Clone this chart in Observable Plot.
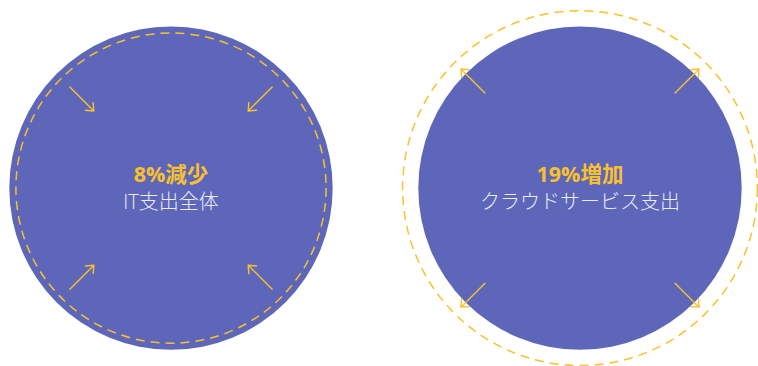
<!DOCTYPE html>
<html>
<head>
<meta charset="utf-8">
<script src="https://cdn.jsdelivr.net/npm/d3@7"></script>
<script src="https://cdn.jsdelivr.net/npm/@observablehq/plot@0.6"></script>
<style>
  html, body { margin: 0; padding: 0; background: #ffffff; }
  #chart { width: 758px; height: 366px; }
</style>
</head>
<body>
<div id="chart"></div>
<script>
// Data
const categories = ["IT支出全体", "クラウドサービス支出"];
const changes = [-8, 19];               // % change
const changeLabels = ["8%減少", "19%増加"];

// Layout / style
const W = 758, H = 366;
const baseR = 161.7;                    // px radius representing 100%
const centerY = 187.6;                  // px from top
const marginRight = 7.5;
const padInner = 0.1673;
const yellow = "#F9C12E";
const fillColor = "#5D66B8";
const font = "'Open Sans', 'Noto Sans CJK JP', sans-serif";

const rows = categories.map((c, i) => ({cat: c, change: changes[i], label: changeLabels[i],
  newR: baseR * Math.sqrt(1 + changes[i] / 100)}));

// arrows at the four diagonals
const arrowLen = 34;
const arrows = [];
for (const r of rows) {
  for (const a of [45, 135, 225, 315]) {
    const rad = a * Math.PI / 180;
    let tail, head;
    if (r.change < 0) { tail = r.newR - 12; head = tail - arrowLen; }
    else { head = r.newR - 8; tail = head - arrowLen; }
    arrows.push({cat: r.cat,
      x1: tail * Math.cos(rad), y1: tail * Math.sin(rad),
      x2: head * Math.cos(rad), y2: head * Math.sin(rad)});
  }
}

const step = (W - marginRight) / (2 - padInner);
const bw = step * (1 - padInner);

const chart = Plot.plot({
  width: W, height: H,
  marginTop: 0, marginBottom: 0, marginLeft: 0, marginRight: marginRight,
  style: {background: "#ffffff", fontFamily: font},
  fx: {domain: categories, paddingInner: padInner, paddingOuter: 0, axis: null, label: null},
  x: {domain: [-bw / 2, bw / 2], axis: null},
  y: {domain: [-(H - centerY), centerY], axis: null},
  r: {type: "identity"},
  marks: [
    Plot.dot(rows, {fx: "cat", x: () => 0, y: () => 0, r: () => baseR, fill: fillColor, stroke: "none"}),
    Plot.dot(rows, {fx: "cat", x: () => 0, y: () => 0, r: d => d.newR + (d.change > 0 ? 1 : 0), fill: "none", stroke: yellow,
      strokeWidth: 1.5, strokeDasharray: "9,6"}),
    Plot.arrow(arrows, {fx: "cat", x1: "x1", y1: "y1", x2: "x2", y2: "y2", stroke: yellow,
      strokeWidth: 1.4, headLength: 9, headAngle: 80}),
    Plot.text(rows, {fx: "cat", x: () => 0, y: () => 0, text: "label", dy: -13, fill: yellow,
      fontSize: 21.5, fontWeight: "bold", fontFamily: font}),
    Plot.text(rows, {fx: "cat", x: () => 0, y: () => 0, text: "cat", dy: 14, fill: "#ECEDF8",
      fontSize: 20, fontWeight: 300, fontFamily: font})
  ]
});
document.getElementById("chart").appendChild(chart);
</script>
</body>
</html>
